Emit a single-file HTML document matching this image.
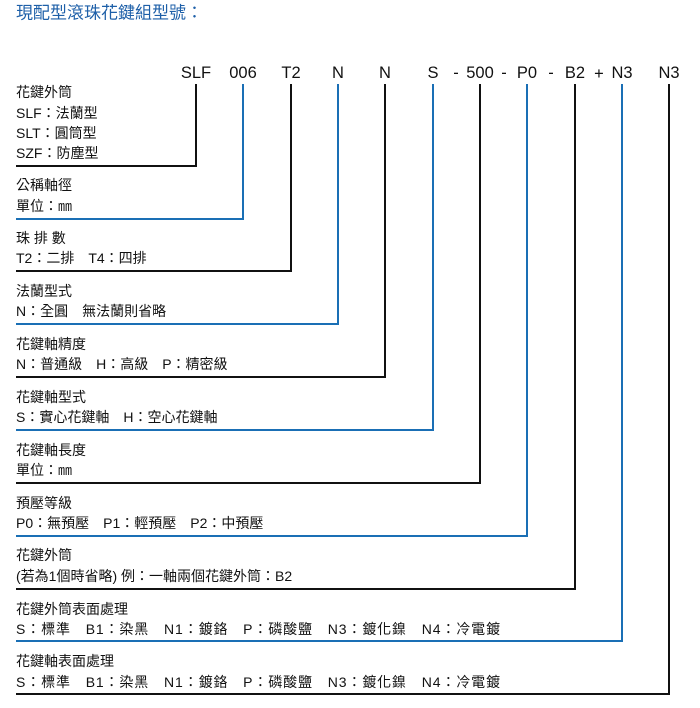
<!DOCTYPE html>
<html><head><meta charset="utf-8"><style>
html,body{margin:0;padding:0;background:#fff;}
svg{display:block;}
text{font-family:"Liberation Sans","Noto Sans CJK TC",sans-serif;font-size:14px;fill:#111;dominant-baseline:central;}
.c{font-size:16.5px;text-anchor:middle;}
.t{font-size:17px;fill:#1d5fa8;}
</style></head><body>
<svg width="700" height="708" viewBox="0 0 700 708">
<text class="t" x="16" y="13">現配型滾珠花鍵組型號：</text>
<g>
<text class="c" x="196" y="73">SLF</text>
<text class="c" x="243" y="73">006</text>
<text class="c" x="291" y="73">T2</text>
<text class="c" x="338" y="73">N</text>
<text class="c" x="385" y="73">N</text>
<text class="c" x="433" y="73">S</text>
<text class="c" x="456" y="73">-</text>
<text class="c" x="480" y="73">500</text>
<text class="c" x="504" y="73">-</text>
<text class="c" x="527" y="73">P0</text>
<text class="c" x="551" y="73">-</text>
<text class="c" x="575" y="73">B2</text>
<text class="c" x="599" y="74">+</text>
<text class="c" x="622" y="73">N3</text>
<text class="c" x="669" y="73">N3</text>
</g>
<g fill="none" stroke-width="2">
<polyline stroke="#111" points="196,84 196,166 16,166"/>
<polyline stroke="#1a6fb5" points="243,84 243,219 16,219"/>
<polyline stroke="#111" points="291,84 291,271 16,271"/>
<polyline stroke="#1a6fb5" points="338,84 338,324 16,324"/>
<polyline stroke="#111" points="385,84 385,377 16,377"/>
<polyline stroke="#1a6fb5" points="433,84 433,430 16,430"/>
<polyline stroke="#111" points="480,84 480,483 16,483"/>
<polyline stroke="#1a6fb5" points="527,84 527,536 16,536"/>
<polyline stroke="#111" points="575,84 575,589 16,589"/>
<polyline stroke="#1a6fb5" points="622,84 622,641 16,641"/>
<polyline stroke="#111" points="669,84 669,694 16,694"/>
</g>
<g xml:space="preserve">
<text x="16" y="92">花鍵外筒</text>
<text x="16" y="113">SLF：法蘭型</text>
<text x="16" y="133">SLT：圓筒型</text>
<text x="16" y="153">SZF：防塵型</text>
<text x="16" y="185">公稱軸徑</text>
<text x="16" y="206">單位：㎜</text>
<text x="16" y="238">珠 排 數</text>
<text x="16" y="258">T2：二排　T4：四排</text>
<text x="16" y="291">法蘭型式</text>
<text x="16" y="311">N：全圓　無法蘭則省略</text>
<text x="16" y="344">花鍵軸精度</text>
<text x="16" y="364">N：普通級　H：高級　P：精密級</text>
<text x="16" y="397">花鍵軸型式</text>
<text x="16" y="417">S：實心花鍵軸　H：空心花鍵軸</text>
<text x="16" y="450">花鍵軸長度</text>
<text x="16" y="470">單位：㎜</text>
<text x="16" y="503">預壓等級</text>
<text x="16" y="523">P0：無預壓　P1：輕預壓　P2：中預壓</text>
<text x="16" y="555">花鍵外筒</text>
<text x="16" y="576">(若為1個時省略)  例：一軸兩個花鍵外筒：B2</text>
<text x="16" y="609">花鍵外筒表面處理</text>
<text x="16" y="629" textLength="484">S：標準　B1：染黑　N1：鍍鉻　P：磷酸鹽　N3：鍍化鎳　N4：冷電鍍</text>
<text x="16" y="661">花鍵軸表面處理</text>
<text x="16" y="682" textLength="484">S：標準　B1：染黑　N1：鍍鉻　P：磷酸鹽　N3：鍍化鎳　N4：冷電鍍</text>
</g>
</svg>
</body></html>
